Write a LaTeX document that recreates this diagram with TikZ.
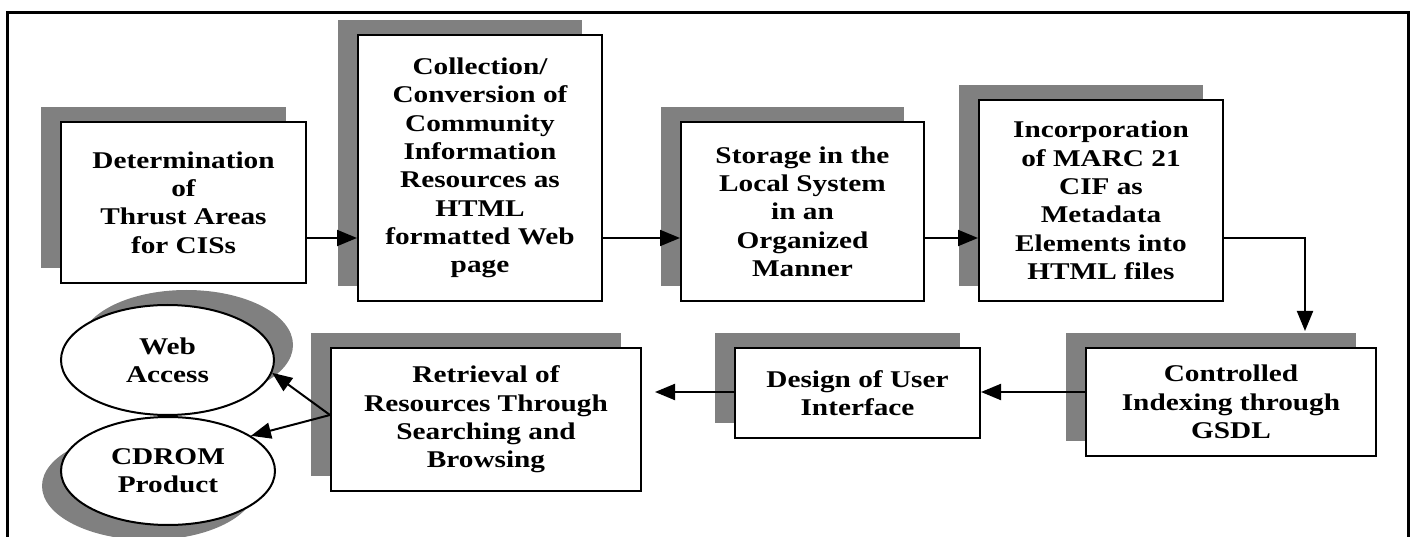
\documentclass[tikz,border=0pt]{standalone}
\usepackage{fontspec}
\setmainfont{Liberation Serif}
\newfontfamily\flowfont{Liberation Serif}[FakeStretch=1.22]
\usetikzlibrary{shapes.geometric,shadows,arrows.meta}
\definecolor{shade}{RGB}{128,128,128}
\tikzset{
  flowtext/.style={align=center, font=\flowfont\bfseries\fontsize{24}{28.3}\selectfont},
  stage/.style={flowtext, rectangle, draw=black, line width=2pt, fill=white, inner sep=0pt,
    general shadow={fill=shade, shadow xshift=-20pt, shadow yshift=15pt}},
  outlet/.style={flowtext, ellipse, draw=black, line width=2pt, fill=white, inner sep=0pt},
  flow/.style={line width=2pt, -{Triangle[length=20pt,width=16pt]}},
}
\begin{document}
\begin{tikzpicture}[x=1pt, y=-1pt]
\useasboundingbox (0,0) rectangle (1417,537);
\clip (0,0) rectangle (1417,537);

% outer frame, open at the bottom
\draw[line width=3pt] (7,560) -- (7,13) -- (1408,13) -- (1408,560);

% upper row of stages
\node[stage, minimum width=245, minimum height=161] (b1) at (183.5,202.5)
  {Determination\\of\\Thrust Areas\\for CISs};
\node[stage, minimum width=244, minimum height=266] (b2) at (480,168)
  {Collection/\\Conversion of\\Community\\Information\\Resources as\\HTML\\formatted Web\\page};
\node[stage, minimum width=243, minimum height=179] (b3) at (802.5,211.5)
  {Storage in the\\Local System\\in an\\Organized\\Manner};
\node[stage, minimum width=244, minimum height=201] (b4) at (1101,200.5)
  {Incorporation\\of MARC 21\\CIF as\\Metadata\\Elements into\\HTML files};

% lower row of stages
\node[stage, minimum width=290, minimum height=108] (b5) at (1231,402)
  {Controlled\\Indexing through\\GSDL};
\node[stage, minimum width=245, minimum height=90] (b6) at (857.5,393)
  {Design of User\\Interface};
\node[stage, minimum width=310, minimum height=143] (b7) at (486,419.5)
  {Retrieval of\\Resources Through\\Searching and\\Browsing};

% output products
\node[outlet, minimum width=213, minimum height=110,
  general shadow={fill=shade, shadow xshift=19pt, shadow yshift=15pt}] (web) at (167.5,360)
  {Web\\Access};
\node[outlet, minimum width=214, minimum height=108,
  general shadow={fill=shade, shadow xshift=-19pt, shadow yshift=-15pt}] (cd) at (168,471)
  {CDROM\\Product};

% connectors
\coordinate (r1) at (0,238);
\coordinate (r2) at (0,392);
\coordinate (r3) at (0,415);
\draw[flow] (b1.east |- r1) -- (b2.west |- r1);
\draw[flow] (b2.east |- r1) -- (b3.west |- r1);
\draw[flow] (b3.east |- r1) -- (b4.west |- r1);
\draw[flow, shorten >=16pt] (b4.east |- r1) -| ([xshift=74pt]b5.north);
\draw[flow] (b5.west |- r2) -- (b6.east |- r2);
\draw[flow, shorten >=13pt] (b6.west |- r2) -- (b7.east |- r2);
\draw[flow] (b7.west |- r3) -- (web.-7);
\draw[flow] (b7.west |- r3) -- (cd.23);
\end{tikzpicture}
\end{document}
